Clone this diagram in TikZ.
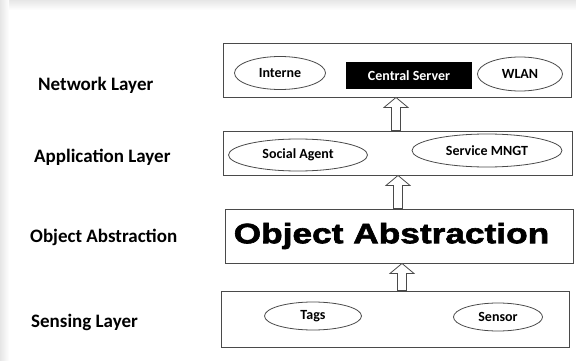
\documentclass[tikz,border=0pt]{standalone}
\usepackage{fontspec}
\setmainfont{Carlito}
\newfontfamily\heavyfont[FakeBold=2.2,FakeStretch=1.26]{Liberation Sans}
\usetikzlibrary{calc,shapes.geometric}

\definecolor{edge}{HTML}{4A4A4A}
\definecolor{shade}{HTML}{E6E6E6}

\tikzset{
  layerbox/.style={draw=edge, line width=0.9pt, fill=white, inner sep=0pt},
  oval/.style={ellipse, draw=edge, line width=0.8pt, inner sep=0pt,
               font=\bfseries\fontsize{14}{16}\selectfont},
  sidelabel/.style={anchor=west, inner sep=0pt, font=\bfseries\fontsize{19}{21}\selectfont},
  blockarrow/.style={draw=edge, line width=0.8pt, fill=white},
}

% hollow upward block arrow from #1 (tail) to #2 (tip)
\newcommand\hollowup[2]{%
  \draw[blockarrow] let \p1=(#1), \p2=(#2) in
    (\x1-4.5pt,\y1) -- (\x1-4.5pt,\y2-10pt) -- (\x1-12pt,\y2-10pt) --
    (\x1,\y2) -- (\x1+12pt,\y2-10pt) -- (\x1+4.5pt,\y2-10pt) --
    (\x1+4.5pt,\y1) -- cycle;}

\begin{document}
\begin{tikzpicture}[x=1pt,y=-1pt]
  \useasboundingbox (0,0) rectangle (576,361);
  \fill[white] (0,0) rectangle (576,361);
  % soft frame along the top and left edges
  \shade[top color=shade, bottom color=white] (0,0) rectangle (576,10);
  \shade[left color=shade, right color=white] (0,0) rectangle (9,361);

  % layer boxes
  \node[layerbox, minimum width=348pt, minimum height=54pt] (net)  at (397,70) {};
  \node[layerbox, minimum width=349pt, minimum height=44pt] (app)  at (397.5,153) {};
  \node[layerbox, minimum width=348pt, minimum height=54pt] (obj)  at (399,236) {};
  \node[layerbox, minimum width=348pt, minimum height=56pt] (sens) at (395,319) {};
  \node[inner sep=0pt, font=\heavyfont\bfseries\fontsize{28}{30}\selectfont]
       (objtext) at (391.5,236) {Object Abstraction};

  % network layer contents
  \node[oval, minimum width=91pt, minimum height=33pt] (inet) at (280,73) {Interne};
  \node[fill=black, text=white, minimum width=126pt, minimum height=27pt, inner sep=0pt,
        font=\bfseries\fontsize{14}{16}\selectfont] (srv) at (409,75.5) {Central Server};
  \node[oval, minimum width=85pt, minimum height=34pt] (wlan) at (520,74) {WLAN};

  % application layer contents
  \node[oval, minimum width=139pt, minimum height=32pt] (social) at (298,155) {Social Agent};
  \node[oval, minimum width=150pt, minimum height=33pt] (svc) at (487,150.5) {Service MNGT};

  % sensing layer contents
  \node[oval, minimum width=97pt, minimum height=28pt] (tags) at (313,316) {Tags};
  \node[oval, minimum width=89pt, minimum height=28pt] (sensor) at (498,317) {Sensor};

  % side labels
  \node[sidelabel] (lnet)  at (38,85)  {Network Layer};
  \node[sidelabel] (lapp)  at (34,157) {Application Layer};
  \node[sidelabel] (lobj)  at (30,237) {Object Abstraction};
  \node[sidelabel] (lsens) at (31,322) {Sensing Layer};

  % flow between layers
  \coordinate (a1) at ([xshift=-1.5pt]app.north);
  \coordinate (a2) at ([xshift=-1pt]obj.north);
  \coordinate (a3) at ([xshift=7pt]sens.north);
  \hollowup{a1}{net.south -| a1}
  \hollowup{a2}{app.south -| a2}
  \hollowup{a3}{obj.south -| a3}
\end{tikzpicture}
\end{document}
